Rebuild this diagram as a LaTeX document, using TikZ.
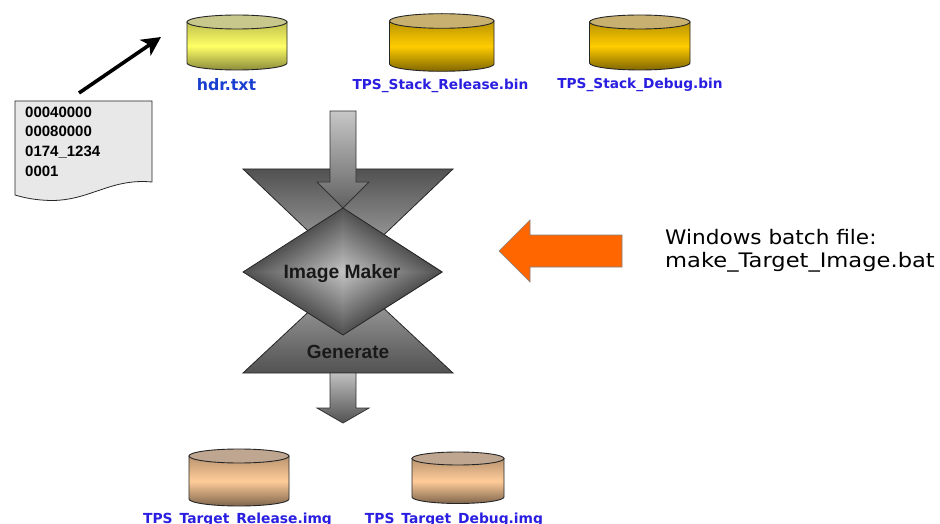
\documentclass[tikz,border=0pt]{standalone}
\usepackage{fontspec}
\setmainfont{DejaVu Sans}
\newfontfamily\arialb[BoldFont={Liberation Sans Bold}]{Liberation Sans}
\usetikzlibrary{arrows.meta}
\definecolor{lblA}{HTML}{1A3FD0}
\definecolor{lblB}{HTML}{2A1FE0}
\definecolor{yelB}{HTML}{FFFF66}
\definecolor{yelD}{HTML}{8C8C3C}
\definecolor{yelL}{HTML}{C8C88C}
\definecolor{golB}{HTML}{FFCC00}
\definecolor{golD}{HTML}{806600}
\definecolor{golL}{HTML}{C8B070}
\definecolor{tanB}{HTML}{FFCC99}
\definecolor{tanD}{HTML}{80664D}
\definecolor{tanL}{HTML}{BFA690}
\definecolor{orgF}{HTML}{FF6600}
\tikzset{
  x=1pt,y=-1pt,
  lbl/.style={font=\fontsize{13.7}{16}\selectfont\bfseries,text=lblB,inner sep=0pt,anchor=base},
  grayarrow/.style={draw=black!80,line width=0.8pt,line join=miter},
  tri/.style={draw=black!85,line width=0.8pt,line join=miter},
  doctext/.style={font=\arialb\bfseries\fontsize{15}{19.5}\selectfont,anchor=base west,inner sep=0pt},
  graytext/.style={font=\arialb\bfseries\fontsize{19}{20}\selectfont,inner sep=0pt,anchor=base,text=black!90},
  battext/.style={font=\fontsize{20}{23}\selectfont,anchor=base west,inner sep=0pt,transform shape}
}
% \cyl{left}{right}{ytop-centre}{yside-bottom}{ry}{bright}{dark}{lid}
\newcommand{\cyl}[8]{%
  \pgfmathsetmacro\cm{(#1+#2)/2}
  \pgfmathsetmacro\cw{(#2-#1)/2}
  \path[draw=black!85,line width=0.9pt,top color=#7!55!#6,bottom color=#7,middle color=#6]
    (#1,#3) -- (#1,#4)
    .. controls (#1,{#4+0.55*#5}) and ({\cm-0.55*\cw},{#4+#5}) .. (\cm,{#4+#5})
    .. controls ({\cm+0.55*\cw},{#4+#5}) and (#2,{#4+0.55*#5}) .. (#2,#4)
    -- (#2,#3) -- cycle;
  \path[draw=black!85,line width=0.9pt,fill=#8]
    (\cm,#3) ellipse[x radius=\cw,y radius=#5];
}
\begin{document}
\begin{tikzpicture}
\useasboundingbox (0,0) rectangle (940,524);
\fill[white] (0,0) rectangle (940,524);

% cylinders
\cyl{187}{287}{22}{63}{7}{yelB}{yelD}{yelL}
\cyl{389.5}{494}{21}{64}{7.3}{golB}{golD}{golL}
\cyl{589.5}{690}{22}{63}{7}{golB}{golD}{golL}
\cyl{189}{289}{456}{499}{7}{tanB}{tanD}{tanL}
\cyl{412}{504}{458.5}{497}{6.5}{tanB}{tanD}{tanL}

\node[lbl,text=lblA,font=\fontsize{15.8}{16}\selectfont\bfseries] (hdr) at (226.5,91) {hdr.txt};
\node[lbl] (relbin) at (440.5,90) {TPS\_Stack\_Release.bin};
\node[lbl] (dbgbin) at (640,89) {TPS\_Stack\_Debug.bin};
\node[lbl,font=\fontsize{13.85}{16}\selectfont\bfseries] (relimg) at (237.5,523) {TPS\_Target\_Release.img};
\node[lbl,font=\fontsize{13.85}{16}\selectfont\bfseries] (dbgimg) at (454,523) {TPS\_Target\_Debug.img};

% document
\path[draw=black!85,line width=0.8pt,fill=black!9]
  (15,101) -- (152,101) -- (152,182)
  .. controls (110,178) and (90,201) .. (50,200.5)
  .. controls (35,200) and (25,198) .. (15,195) -- cycle;
\node[doctext] (d1) at (25,117.5) {00040000};
\node[doctext] (d2) at (25,137) {00080000};
\node[doctext] (d3) at (25,157) {0174\_1234};
\node[doctext] (d4) at (25,176) {0001};

% thick arrow
\coordinate (aS) at (79,93);
\coordinate (aE) at (161,37);
\draw[line width=3.6pt,-{Stealth[length=19pt,width=19pt,inset=5pt]}] (aS) -- (aE);

% triangles
\path[tri,top color=black!68,bottom color=black!30] (243,169) -- (453,169) -- (348,269) -- cycle;
\path[tri,top color=black!30,bottom color=black!68] (348,275) -- (453,373) -- (243,373) -- cycle;

% upper arrow
\path[grayarrow,top color=black!22,bottom color=black!62]
  (330,111) -- (356,111) -- (356,182) -- (369,182) -- (343,208) -- (317,182) -- (330,182) -- cycle;
% lower arrow
\path[grayarrow,top color=black!25,bottom color=black!68]
  (330,373) -- (356,373) -- (356,408) -- (369,408) -- (343,423) -- (317,408) -- (330,408) -- cycle;

% diamond
\foreach \i in {0,...,40}{
  \pgfmathsetmacro\f{1-\i/41}
  \pgfmathsetmacro\k{68-\i*1.1}
  \fill[black!\k] ({343-100*\f},272) -- (343,{272-64*\f}) -- ({343+100*\f},272) -- (343,{272+63*\f}) -- cycle;
}
\draw[black!85,line width=0.8pt,line join=miter] (243,272) -- (343,208) -- (442,272) -- (343,335) -- cycle;
\node[graytext,font=\arialb\bfseries\fontsize{19.3}{20}\selectfont] (maker) at (342,278) {Image Maker};
\node[graytext] (gen) at (348,358) {Generate};

% orange arrow
\path[draw=black!50,line width=0.6pt,fill=orgF]
  (622,235) -- (530,235) -- (530,220) -- (499,251) -- (530,282) -- (530,267) -- (622,267) -- cycle;

\node[battext,xscale=1.08] (bat1) at (665,244) {Windows batch file:};
\node[battext,xscale=1.13] (bat2) at (665,267) {make\_Target\_Image.bat};
\end{tikzpicture}
\end{document}
